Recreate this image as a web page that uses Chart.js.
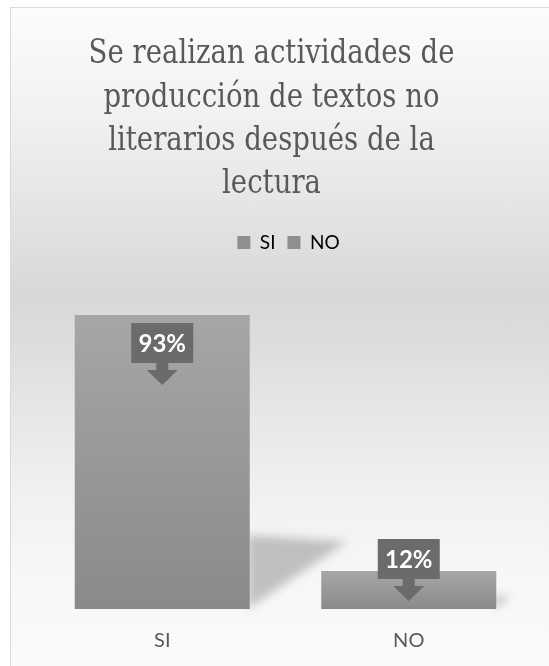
<!DOCTYPE html>
<html><head><meta charset="utf-8">
<script src="https://cdn.jsdelivr.net/npm/chart.js@4"></script>
<style>
html,body{margin:0;padding:0;background:#fff;overflow:hidden;width:549px;height:666px;}
#wrap{position:absolute;left:10px;top:7px;width:600px;height:720px;border-left:1px solid #d9d9d9;border-top:1px solid #d9d9d9;
background:linear-gradient(to bottom,#fcfcfc 0px,#f2f2f2 100px,#e6e6e6 190px,#d8d8d8 285px,#dcdcdc 330px,#e6e6e6 400px,#f0f0f0 480px,#f7f7f7 570px,#fbfbfb 680px);}
#c{position:absolute;left:0;top:0;}
</style></head>
<body>
<div id="wrap"><canvas id="c" width="559" height="700" style="width:559px;height:700px"></canvas></div>
<script>
const titleLines = ["Se realizan actividades de", "producción de textos no", "literarios después de la", "lectura"];
const categories = ["SI", "NO"];
const values = [93, 12];
const valueLabels = ["93%", "12%"];

const GRAY_TEXT = '#595959';
const SERIF = '"DejaVu Serif", serif';
const SANS = 'Lato, "Open Sans", sans-serif';

function barGradient(ctx) {
  const chart = ctx.chart;
  const ys = chart.scales.y;
  if (!ys || ctx.type !== 'data') return '#999';
  const top = ys.getPixelForValue(values[ctx.dataIndex]);
  const base = ys.getPixelForValue(0);
  const g = chart.ctx.createLinearGradient(0, top, 0, base);
  g.addColorStop(0, '#a6a6a6');
  g.addColorStop(1, '#8a8a8a');
  return g;
}

const titlePlugin = {
  id: 'customTitle',
  afterDraw(chart) {
    const ctx = chart.ctx;
    const sx = 0.835;
    ctx.save();
    ctx.scale(sx, 1);
    ctx.fillStyle = GRAY_TEXT;
    ctx.font = '33px ' + SERIF;
    ctx.textAlign = 'center';
    ctx.textBaseline = 'alphabetic';
    const x = 260.5 / sx;
    const baselines = [55, 98.5, 142, 185];
    titleLines.forEach((t, i) => ctx.fillText(t, x, baselines[i]));
    ctx.restore();
  }
};

const legendTweak = {
  id: 'legendTweak',
  beforeInit(chart) {
    const lg = chart.legend;
    const fit = lg.fit;
    lg.fit = function () { fit.call(lg); this.height += 31; };
    const dr = lg.draw;
    lg.draw = function () { const c = this.ctx; c.save(); c.translate(3, 0); dr.call(lg); c.restore(); };
  }
};

const shadowPlugin = {
  id: 'barShadow',
  beforeDatasetsDraw(chart) {
    const ctx = chart.ctx;
    const meta = chart.getDatasetMeta(0);
    ctx.save();
    ctx.filter = 'blur(5px)';
    ctx.fillStyle = 'rgba(0,0,0,0.22)';
    meta.data.forEach(bar => {
      const right = bar.x + bar.width / 2;
      const base = bar.base;
      const h = base - bar.y;
      ctx.beginPath();
      ctx.moveTo(right - 2, base);
      ctx.lineTo(right - 2, base - Math.max(0.25 * h, 14));
      ctx.lineTo(right + Math.max(0.33 * h, 14), base - Math.max(0.23 * h, 12));
      ctx.closePath();
      ctx.fill();
    });
    ctx.restore();
  }
};

const calloutPlugin = {
  id: 'callouts',
  afterDatasetsDraw(chart) {
    const ctx = chart.ctx;
    const meta = chart.getDatasetMeta(0);
    const boxW = 62, boxH = 40, stemW = 12, stemH = 7, headW = 31, headH = 15;
    const total = boxH + stemH + headH;
    meta.data.forEach((bar, i) => {
      const cx = bar.x;
      const top = Math.min(bar.y + 8, bar.base - 8 - total);
      ctx.save();
      ctx.fillStyle = '#6b6b6b';
      ctx.beginPath();
      ctx.moveTo(cx - boxW / 2, top);
      ctx.lineTo(cx + boxW / 2, top);
      ctx.lineTo(cx + boxW / 2, top + boxH);
      ctx.lineTo(cx + stemW / 2, top + boxH);
      ctx.lineTo(cx + stemW / 2, top + boxH + stemH);
      ctx.lineTo(cx + headW / 2, top + boxH + stemH);
      ctx.lineTo(cx, top + total);
      ctx.lineTo(cx - headW / 2, top + boxH + stemH);
      ctx.lineTo(cx - stemW / 2, top + boxH + stemH);
      ctx.lineTo(cx - stemW / 2, top + boxH);
      ctx.lineTo(cx - boxW / 2, top + boxH);
      ctx.closePath();
      ctx.fill();
      ctx.fillStyle = '#ffffff';
      ctx.font = 'bold 24px ' + SANS;
      ctx.textAlign = 'center';
      ctx.textBaseline = 'middle';
      ctx.fillText(valueLabels[i], cx, top + boxH / 2 + 1);
      ctx.restore();
    });
  }
};

function draw() {
  new Chart(document.getElementById('c'), {
    type: 'bar',
    data: {
      labels: categories,
      datasets: [{
        label: 'Porcentaje',
        data: values,
        backgroundColor: barGradient,
        borderWidth: 0,
        categoryPercentage: 0.71,
        barPercentage: 1.0
      }]
    },
    options: {
      responsive: false,
      animation: false,
      devicePixelRatio: 1,
      layout: { padding: { top: 213, left: 28, right: 38, bottom: 43 } },
      plugins: {
        title: { display: false },
        tooltip: { enabled: false },
        legend: {
          display: true,
          position: 'top',
          labels: {
            color: GRAY_TEXT,
            font: { family: SANS, size: 19 },
            boxWidth: 13,
            boxHeight: 13,
            padding: 12,
            generateLabels: () => categories.map(c => ({
              text: c, fillStyle: '#8f8f8f', strokeStyle: 'rgba(0,0,0,0)', lineWidth: 0, hidden: false
            }))
          },
          onClick: null
        }
      },
      scales: {
        x: {
          grid: { display: false },
          border: { display: false },
          ticks: { color: GRAY_TEXT, font: { family: SANS, size: 20 }, padding: 12 }
        },
        y: { display: false, min: 0, max: 100 }
      }
    },
    plugins: [legendTweak, shadowPlugin, calloutPlugin, titlePlugin]
  });
}

Promise.all([
  document.fonts.load('33px "DejaVu Serif"'),
  document.fonts.load('19px Lato'),
  document.fonts.load('bold 24px Lato')
]).catch(() => {}).then(draw);
</script>
</body></html>
